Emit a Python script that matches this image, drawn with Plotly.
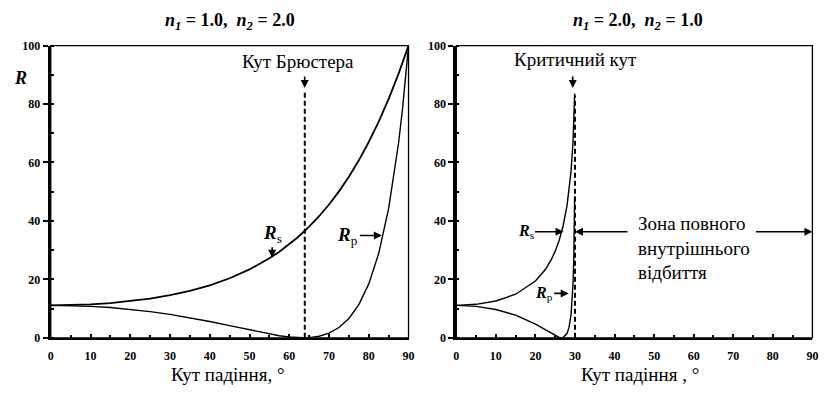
import plotly.graph_objects as go

# ---- data (reflectance, %) ----
ang_left = [0, 5, 10, 15, 20, 25, 30, 35, 40, 45, 50, 55, 57.5, 60, 62, 63.4, 65,
            67.5, 70, 72.5, 75, 77.5, 80, 82.5, 85, 87.5, 88.5, 90]
rs_left = [11.11, 11.20, 11.45, 11.90, 12.55, 13.43, 14.59, 16.08, 17.98, 20.38, 23.40,
           27.21, 29.47, 32.01, 34.25, 36.0, 38.04, 41.61, 45.62, 50.11, 55.13, 60.74,
           67.01, 74.00, 81.77, 90.42, 94.13, 100]
rp_left = [11.11, 11.02, 10.77, 10.35, 9.74, 8.96, 8.00, 6.87, 5.57, 4.15, 2.68, 1.30,
           0.72, 0.27, 0.05, 0.0, 0.07, 0.54, 1.61, 3.52, 6.60, 11.35, 18.45, 28.92,
           44.26, 66.75, 78.50, 100]

ang_right = [0, 5, 10, 15, 20, 22.5, 24, 25, 26, 26.57, 27, 28, 28.5, 29, 29.5, 29.7, 29.8, 29.9]
rs_right = [11.11, 11.46, 12.60, 14.91, 19.43, 23.36, 26.74, 29.66, 33.39, 36.0, 38.35,
            45.40, 50.33, 56.95, 67.04, 73.33, 77.62, 83.59]
rp_right = [11.11, 10.77, 9.70, 7.75, 4.69, 2.70, 1.45, 0.68, 0.12, 0.0, 0.09, 1.54,
            3.63, 7.98, 18.49, 27.79, 35.53, 48.46]

brewster_angle = 63.9
critical_angle = 30
x_ticks = [0, 10, 20, 30, 40, 50, 60, 70, 80, 90]
y_ticks = [0, 20, 40, 60, 80, 100]

W, H = 827, 394
FONT = "Liberation Serif"


def px(xp):
    return xp / W


def py(yp):
    return 1 - yp / H


fig = go.Figure()
line = dict(color="black", width=1.4)
fig.add_trace(go.Scatter(x=ang_left, y=rs_left, mode="lines", line=dict(color="black", width=1.8), xaxis="x", yaxis="y"))
fig.add_trace(go.Scatter(x=ang_left, y=rp_left, mode="lines", line=line, xaxis="x", yaxis="y"))
fig.add_trace(go.Scatter(x=ang_right, y=rs_right, mode="lines", line=line, xaxis="x2", yaxis="y2"))
fig.add_trace(go.Scatter(x=ang_right, y=rp_right, mode="lines", line=line, xaxis="x2", yaxis="y2"))

# dashed verticals
fig.add_trace(go.Scatter(x=[brewster_angle, brewster_angle], y=[0, 84], mode="lines",
                         line=dict(color="black", width=2, dash="5px,3px"), xaxis="x", yaxis="y"))
fig.add_trace(go.Scatter(x=[critical_angle, critical_angle], y=[0, 83], mode="lines",
                         line=dict(color="black", width=2, dash="5px,3px"), xaxis="x2", yaxis="y2"))

ydom = [py(343), py(40)]
tickfont = dict(family=FONT, size=12, color="black", weight="bold")
xaxis_common = dict(range=[0, 90], tickvals=x_ticks, showline=True, linewidth=2, linecolor="black",
                    ticks="inside", ticklen=4, tickwidth=1.5, tickcolor="black",
                    minor=dict(dtick=5, ticks="inside", ticklen=3, tickcolor="black", tickwidth=1.5),
                    showgrid=False, zeroline=False, ticklabelstandoff=6,
                    tickfont=tickfont)
yaxis_common = dict(range=[0, 100], tickvals=y_ticks, showline=True, linewidth=3, linecolor="black",
                    ticks="outside", ticklen=5, tickwidth=1.5, tickcolor="black",
                    minor=dict(dtick=10, ticks="inside", ticklen=3, tickcolor="black", tickwidth=1.5),
                    showgrid=False, zeroline=False, domain=ydom,
                    tickfont=tickfont)

fig.update_layout(
    width=W, height=H, margin=dict(l=0, r=0, t=0, b=0),
    paper_bgcolor="white", plot_bgcolor="white", showlegend=False,
    font=dict(family=FONT, color="black"),
    xaxis=dict(xaxis_common, domain=[px(48.3), px(410)], anchor="y"),
    yaxis=dict(yaxis_common, anchor="x"),
    xaxis2=dict(xaxis_common, domain=[px(458.3), px(818.3)], anchor="y2"),
    yaxis2=dict(yaxis_common, anchor="x2"),
)

# thin frame
for xr, yr in [("x domain", "y domain"), ("x2 domain", "y2 domain")]:
    fig.add_shape(type="rect", xref=xr, yref=yr, x0=0, x1=1, y0=0, y1=1,
                  line=dict(color="black", width=1.3), layer="above")

ann = []
tf = dict(family=FONT, color="black")


def text_at(xp, yp, text, size, **kw):
    d = dict(x=px(xp), y=py(yp), xref="paper", yref="paper", showarrow=False,
             xanchor="center", yanchor="middle", text=text, font=dict(tf, size=size))
    d.update(kw)
    ann.append(d)


def arrow_at(xp, yp, ax, ay):
    ann.append(dict(x=px(xp), y=py(yp), xref="paper", yref="paper", ax=ax, ay=ay, text="",
                    showarrow=True, arrowhead=2, arrowsize=1, arrowwidth=1.6, arrowcolor="black"))


# titles
text_at(229, 15, "<b><i>n</i><sub><i>1</i></sub> = 1.0,  <i>n</i><sub><i>2</i></sub> = 2.0</b>", 18)
text_at(642, 15, "<b><i>n</i><sub><i>1</i></sub> = 2.0,  <i>n</i><sub><i>2</i></sub> = 1.0</b>", 18)
# axis titles
text_at(227, 381, "Кут падіння, °", 19)
text_at(644, 381, "Кут падіння , °", 19)
text_at(18, 74, "<b><i>R</i></b>", 18)
# Brewster
text_at(298, 57, "Кут Брюстера", 19)
arrow_at(305, 84, 0, -13)
# critical
text_at(579, 54, "Критичний кут", 19)
arrow_at(576, 84, 0, -13)
# R labels
lbl = lambda s: "<b><i>R</i></b><sub>%s</sub>" % s
ann.append(dict(x=55.7, y=27.4, xref="x", yref="y", ax=0, ay=-24, text=lbl("s"),
                showarrow=True, arrowhead=2, arrowwidth=1.6, arrowcolor="black",
                font=dict(tf, size=19)))
ann.append(dict(x=83.3, y=35, xref="x", yref="y", ax=-34, ay=0, text=lbl("p"),
                showarrow=True, arrowhead=2, arrowwidth=1.6, arrowcolor="black",
                font=dict(tf, size=19)))
ann.append(dict(x=27.1, y=36.3, xref="x2", yref="y2", ax=-38, ay=0, text=lbl("s"),
                showarrow=True, arrowhead=2, arrowwidth=1.6, arrowcolor="black",
                font=dict(tf, size=16)))
ann.append(dict(x=28.4, y=15.2, xref="x2", yref="y2", ax=-25, ay=0, text=lbl("p"),
                showarrow=True, arrowhead=2, arrowwidth=1.6, arrowcolor="black",
                font=dict(tf, size=16)))
# total internal reflection zone
text_at(640, 212, "Зона повного<br>внутрішнього<br>відбиття", 19,
        xanchor="left", yanchor="top", align="left")
ann.append(dict(x=critical_angle, y=36.3, xref="x2", yref="y2", ax=54, ay=0, text="",
                showarrow=True, arrowhead=2, arrowwidth=1.6, arrowcolor="black"))
ann.append(dict(x=90, y=36.3, xref="x2", yref="y2", ax=-58, ay=0, text="",
                showarrow=True, arrowhead=2, arrowwidth=1.6, arrowcolor="black"))
fig.update_layout(annotations=ann)

fig.write_html("out.html")
